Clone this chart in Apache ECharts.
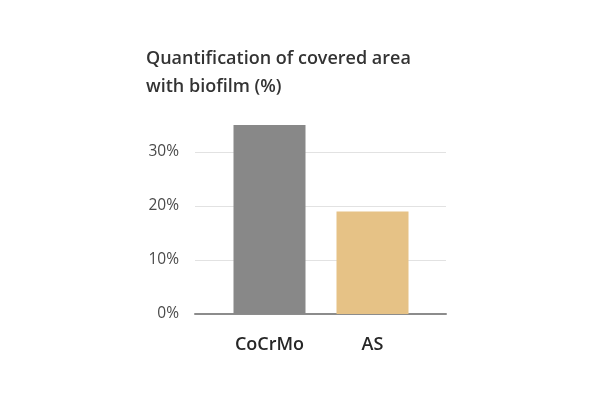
<!DOCTYPE html>
<html><head><meta charset="utf-8">
<script src="https://cdn.jsdelivr.net/npm/echarts@6/dist/echarts.min.js"></script>
<style>html,body{margin:0;padding:0;background:#fff}#c{width:600px;height:400px}</style>
</head><body><div id="c"></div>
<script>
const titleText = 'Quantification of covered area\nwith biofilm (%)';
const categories = ['CoCrMo', 'AS'];
const values = [35, 19];
const barColors = ['#888888', '#e6c286'];
const yTicks = [0, 10, 20, 30];

const chart = echarts.init(document.getElementById('c'));
chart.setOption({
  backgroundColor: '#ffffff',
  animation: false,
  title: {
    text: titleText, left: 141, top: 40,
    textStyle: { fontFamily: 'Open Sans', fontSize: 18, fontWeight: 600, color: '#333333', lineHeight: 28 }
  },
  grid: [
    { left: 195, right: 154, top: 98, bottom: 86 },
    { left: 218, right: 176, top: 98, bottom: 86 }
  ],
  xAxis: [
    { gridIndex: 0, type: 'category', data: [''], axisLine: { lineStyle: { color: '#8c8c8c', width: 2 } },
      axisTick: { show: false }, axisLabel: { show: false } },
    { gridIndex: 1, type: 'category', data: categories, axisLine: { show: false }, axisTick: { show: false },
      axisLabel: { color: '#262626', fontFamily: 'Open Sans', fontSize: 18, fontWeight: 600, margin: 22 } }
  ],
  yAxis: [
    { gridIndex: 0, type: 'value', min: 0, max: 40, interval: 10,
      axisLine: { show: false }, axisTick: { show: false },
      axisLabel: { color: '#4a4a4a', fontFamily: 'Open Sans', fontSize: 15.5, margin: 16,
        formatter: v => yTicks.includes(v) ? v + '%' : '' },
      splitLine: { lineStyle: { color: '#e2e2e2', width: 1 }, showMaxLine: false } },
    { gridIndex: 1, type: 'value', min: 0, max: 40, interval: 10, show: false, splitLine: { show: false } }
  ],
  series: [{
    type: 'bar', xAxisIndex: 1, yAxisIndex: 1, barWidth: 72,
    data: values.map((v, i) => ({ value: v, itemStyle: { color: barColors[i] } }))
  }]
});
</script></body></html>
